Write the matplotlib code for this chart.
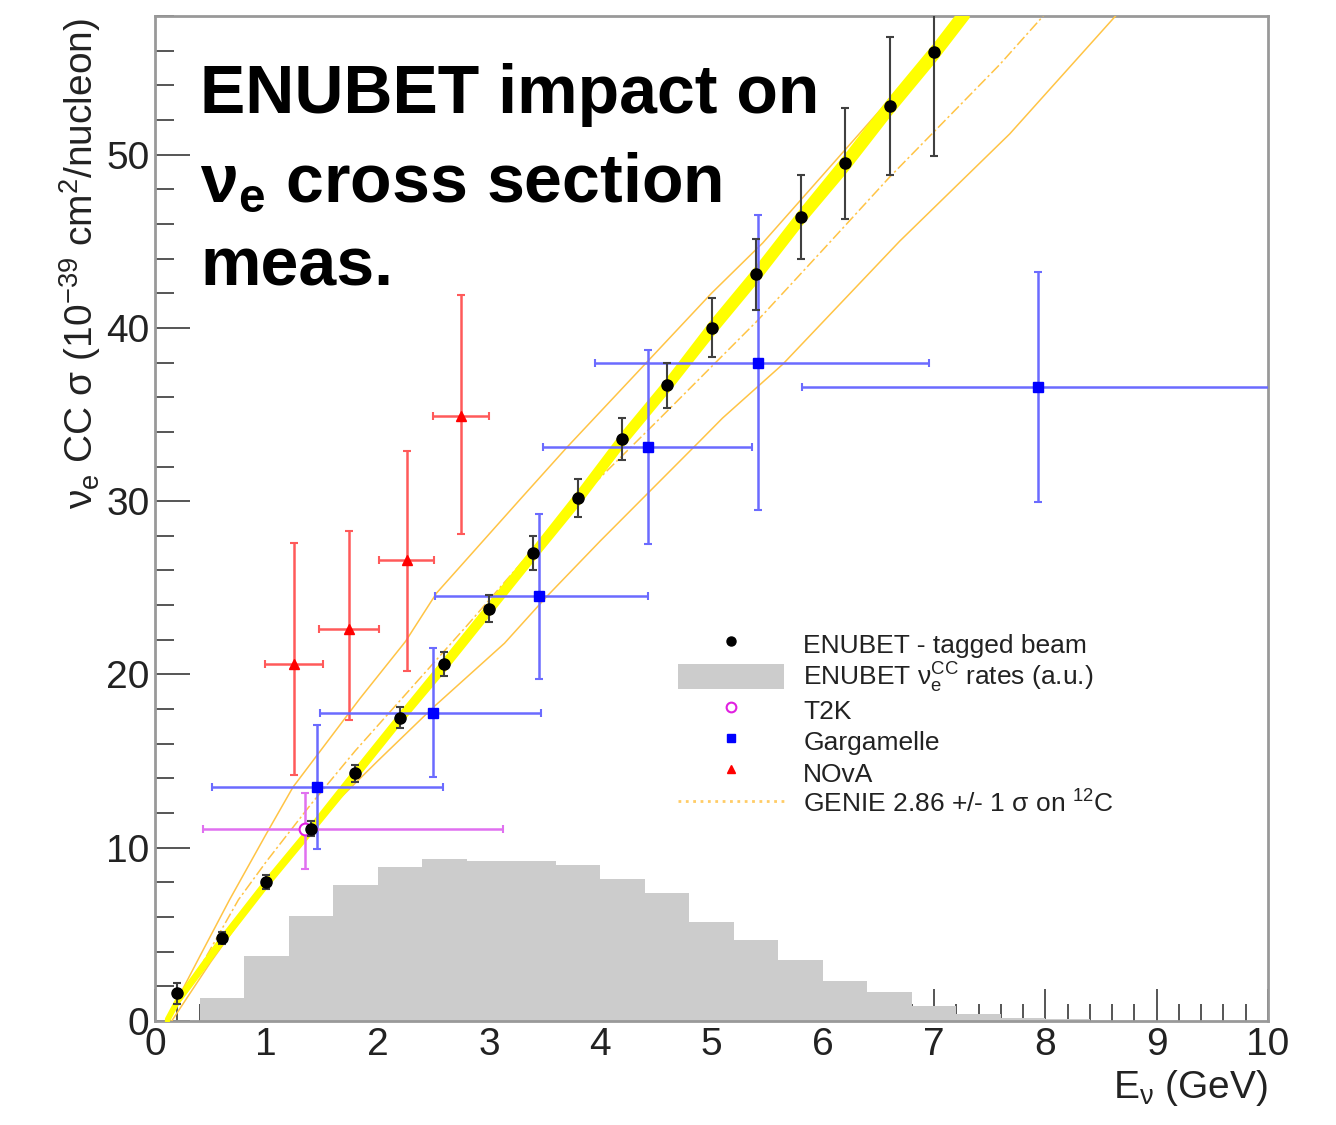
import numpy as np
import matplotlib
matplotlib.use("Agg")
import matplotlib.pyplot as plt
from matplotlib.lines import Line2D
from matplotlib.patches import Patch, Rectangle
from matplotlib.legend_handler import HandlerPatch
from matplotlib.ticker import MultipleLocator

plt.rcParams['font.family'] = ['Liberation Sans', 'DejaVu Sans']
plt.rcParams['mathtext.fontset'] = 'custom'
plt.rcParams['mathtext.rm'] = 'Liberation Sans'
plt.rcParams['mathtext.it'] = 'Liberation Sans:italic'
plt.rcParams['mathtext.bf'] = 'Liberation Sans:bold'

# ---------------- data ----------------
# ENUBET tagged-beam projected measurement
enu_E = [0.2, 0.6, 1.0, 1.4, 1.8, 2.2, 2.6, 3.0, 3.4, 3.8, 4.2, 4.6, 5.0, 5.4, 5.8, 6.2, 6.6, 7.0]
enu_xs = [1.6, 4.8, 8.0, 11.1, 14.3, 17.5, 20.6, 23.8, 27.0, 30.2, 33.6, 36.7, 40.0, 43.1, 46.4, 49.5, 52.8, 55.9]
enu_err = [0.6, 0.35, 0.4, 0.45, 0.5, 0.6, 0.7, 0.8, 1.0, 1.1, 1.2, 1.3, 1.7, 2.05, 2.45, 3.2, 4.0, 6.0]

# ENUBET band (yellow)
band_E = [0.1, 0.2, 0.6, 1.0, 1.4, 1.8, 2.2, 2.6, 3.0, 3.4, 3.8, 4.2, 4.6, 5.0, 5.4, 5.8, 6.2, 6.6, 7.0, 7.3]
band_xs = [0.0, 1.2, 4.7, 8.0, 11.1, 14.3, 17.5, 20.6, 23.8, 27.0, 30.2, 33.6, 36.7, 40.0, 43.1, 46.4, 49.5, 52.8, 55.9, 58.4]
band_hw = [0.15, 0.15, 0.2, 0.2, 0.2, 0.25, 0.25, 0.3, 0.3, 0.3, 0.35, 0.35, 0.35, 0.4, 0.4, 0.4, 0.45, 0.45, 0.45, 0.45]

# ENUBET nu_e CC rates histogram (a.u.)
hist_edges = [0.4, 0.8, 1.2, 1.6, 2.0, 2.4, 2.8, 3.2, 3.6, 4.0, 4.4, 4.8, 5.2, 5.6, 6.0, 6.4, 6.8, 7.2, 7.6, 8.0, 8.4]
hist_counts = [1.35, 3.75, 6.05, 7.85, 8.9, 9.35, 9.25, 9.25, 9.0, 8.2, 7.4, 5.7, 4.67, 3.52, 2.3, 1.67, 0.87, 0.4, 0.17, 0.1]

# T2K
t2k_E = [1.35]
t2k_xs = [11.1]
t2k_xlo = [0.92]
t2k_xhi = [1.78]
t2k_ylo = [2.3]
t2k_yhi = [2.05]

# Gargamelle
garg_E = [1.46, 2.5, 3.45, 4.43, 5.42, 7.93]
garg_xs = [13.5, 17.8, 24.5, 33.1, 38.0, 36.6]
garg_xlo = [0.95, 1.02, 0.93, 0.94, 1.47, 2.12]
garg_xhi = [1.13, 0.97, 0.98, 0.93, 1.53, 2.1]
garg_yerr = [3.6, 3.7, 4.75, 5.6, 8.5, 6.65]

# NOvA
nova_E = [1.25, 1.74, 2.26, 2.75]
nova_xs = [20.6, 22.6, 26.6, 34.9]
nova_xerr = [0.26, 0.27, 0.25, 0.25]
nova_ylo = [6.4, 5.2, 6.4, 6.8]
nova_yhi = [7.0, 5.7, 6.3, 7.0]

# GENIE 2.86 +/- 1 sigma on 12C
genie_up_E = [0.1, 0.4, 0.67, 1.0, 1.24, 1.84, 2.25, 2.53, 3.28, 3.7, 4.27, 5.0, 5.46, 6.3, 7.26]
genie_up = [0.0, 3.7, 7.0, 10.8, 13.5, 18.6, 21.9, 24.7, 30.1, 33.1, 37.0, 42.0, 44.9, 51.0, 58.0]
genie_c_E = [0.1, 0.45, 0.75, 1.0, 1.4, 1.8, 2.3, 2.8, 3.3, 3.88, 4.54, 5.41, 6.0, 6.6, 7.59, 7.98]
genie_c = [0.0, 3.6, 7.0, 9.2, 12.5, 15.6, 19.2, 22.8, 26.5, 30.6, 34.8, 40.4, 44.5, 48.7, 55.2, 58.0]
genie_lo_E = [0.15, 0.5, 0.9, 1.37, 2.0, 2.5, 3.14, 3.52, 4.0, 4.9, 5.1, 5.64, 6.69, 7.68, 8.63]
genie_lo = [0.0, 3.4, 7.0, 11.0, 15.0, 18.1, 21.8, 24.5, 27.7, 33.5, 34.8, 37.9, 45.0, 51.2, 58.0]

x_ticks = [0, 1, 2, 3, 4, 5, 6, 7, 8, 9, 10]
y_ticks = [0, 10, 20, 30, 40, 50]

# ---------------- figure ----------------
W, H = 1336, 1125
fig = plt.figure(figsize=(W / 100, H / 100), dpi=100)
ax = fig.add_axes([155 / W, 1 - 1021 / H, (1268 - 155) / W, (1021 - 16) / H])
ax.set_xlim(0, 10)
ax.set_ylim(0, 58)
ax.set_axisbelow(True)

ax.stairs(hist_counts, hist_edges, fill=True, color='#cccccc', linewidth=0, zorder=1)

gcol = '#ffc445'
ax.plot(genie_up_E, genie_up, color=gcol, lw=1.1, zorder=3)
ax.plot(genie_c_E, genie_c, color=gcol, lw=1.1, ls=(0, (7, 2, 1.5, 2)), zorder=3)
ax.plot(genie_lo_E, genie_lo, color=gcol, lw=1.1, zorder=3)

bE = np.array(band_E); bx = np.array(band_xs); bh = np.array(band_hw)
ax.fill_between(bE, bx - bh, bx + bh, color='#ffff00', linewidth=2.5, edgecolor='#ffff00', zorder=4)

ax.errorbar(nova_E, nova_xs, xerr=nova_xerr, yerr=[nova_ylo, nova_yhi], fmt='^', color='#ff0000',
            ms=6.5, ecolor='#ff5a5a', elinewidth=1.8, capsize=3, capthick=1.5, zorder=5)
ax.errorbar(garg_E, garg_xs, xerr=[garg_xlo, garg_xhi], yerr=garg_yerr, fmt='s', color='#0000ff',
            ms=7, ecolor='#6b6bff', elinewidth=1.8, capsize=3, capthick=1.5, zorder=5)
ax.errorbar(t2k_E, t2k_xs, xerr=[t2k_xlo, t2k_xhi], yerr=[t2k_ylo, t2k_yhi], fmt='o', mfc='white',
            mec='#e020e0', mew=1.5, ms=8.5, ecolor='#e070f0', elinewidth=1.8, capsize=3, capthick=1.5, zorder=5)
ax.errorbar(enu_E, enu_xs, yerr=enu_err, fmt='o', color='black', ms=8, ecolor='#404040',
            elinewidth=1.5, capsize=3, capthick=1.5, zorder=6)

# axes styling
for s in ax.spines.values():
    s.set_color('#999999')
    s.set_linewidth(2)
ax.set_xticks(x_ticks)
ax.set_yticks(y_ticks)
ax.xaxis.set_minor_locator(MultipleLocator(0.2))
ax.yaxis.set_minor_locator(MultipleLocator(2))
ax.tick_params(axis='both', which='both', direction='in', top=False, right=False,
               color='#555555', width=1.4, labelsize=28, labelcolor='#222222')
ax.tick_params(axis='y', which='major', length=25, pad=4)
ax.tick_params(axis='y', which='minor', length=13.5)
ax.tick_params(axis='x', which='major', length=23, pad=4)
ax.tick_params(axis='x', which='minor', length=12)

fig.text(80 / W, 1 - 18 / H, r'$\mathrm{\nu_e}$ CC σ (10$^{\mathrm{-39}}$ cm$^{\mathrm{2}}$/nucleon)',
         rotation=90, ha='center', va='top', fontsize=28, color='#222222')
fig.text(1268 / W, 1 - 1088 / H, r'E$_{\mathrm{\nu}}$ (GeV)', ha='right', va='center',
         fontsize=28, color='#222222')

# big annotation
tx = 200 / W
fig.text(tx, 1 - 113 / H, 'ENUBET impact on', fontsize=49, fontweight='bold', va='baseline', ha='left', zorder=10)
fig.text(tx, 1 - 202 / H, r'ν$_{\mathbf{e}}$ cross section', fontsize=49, fontweight='bold', va='baseline', ha='left', zorder=10)
fig.text(tx, 1 - 285 / H, 'meas.', fontsize=49, fontweight='bold', va='baseline', ha='left', zorder=10)


def _short_rect(legend, orig_handle, xdescent, ydescent, width, height, fontsize):
    h = height * 0.8
    return Rectangle((-xdescent, -ydescent + (height - h) / 2), width, h)


handles = [
    Line2D([], [], ls='none', marker='o', color='black', ms=6.5),
    Patch(facecolor='#cccccc', edgecolor='none'),
    Line2D([], [], ls='none', marker='o', mfc='white', mec='#e020e0', mew=1.5, ms=7),
    Line2D([], [], ls='none', marker='s', color='#0000ff', ms=6),
    Line2D([], [], ls='none', marker='^', color='#ff0000', ms=6),
    Line2D([], [], color='#ffcc66', ls=':', lw=2),
]
labels = [
    'ENUBET - tagged beam',
    r'ENUBET $\mathrm{\nu_e^{CC}}$ rates (a.u.)',
    'T2K',
    'Gargamelle',
    'NOvA',
    r'GENIE 2.86 +/- 1 σ on $^{\mathrm{12}}$C',
]
leg = ax.legend(handles, labels, loc='upper left', bbox_to_anchor=(678 / W, 1 - 629 / H),
                bbox_transform=fig.transFigure, frameon=False, fontsize=19, borderpad=0,
                borderaxespad=0, handlelength=4.0, handleheight=1.45, handletextpad=0.75,
                labelspacing=0.0, handler_map={Patch: HandlerPatch(patch_func=_short_rect)})
for t in leg.get_texts():
    t.set_color('#222222')

fig.savefig('out.png', dpi=100)
